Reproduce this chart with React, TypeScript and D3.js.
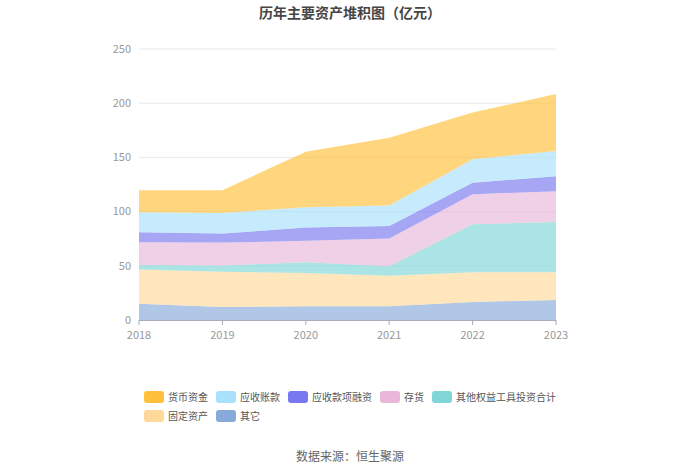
import { useRef, useEffect } from "react";
import * as d3 from "d3";

const years = ["2018", "2019", "2020", "2021", "2022", "2023"];

// 亿元, stacked bottom → top
const other = [15.1, 12.0, 12.6, 12.6, 16.6, 18.5];
const fixedAssets = [31.4, 32.6, 30.8, 28.3, 27.4, 25.5];
const equityInvest = [4.3, 5.6, 9.9, 8.7, 44.4, 46.5];
const inventory = [20.9, 21.2, 19.7, 25.5, 27.7, 28.3];
const receivableFin = [9.3, 8.3, 12.3, 11.7, 10.4, 13.9];
const receivables = [18.4, 19.1, 18.7, 18.8, 21.9, 23.1];
const cash = [20.4, 21.0, 51.2, 62.5, 43.1, 52.6];

const yTicks = [0, 50, 100, 150, 200, 250];

const series = [
    { key: "其它", values: other, color: "#88aadb" },
    { key: "固定资产", values: fixedAssets, color: "#ffd999" },
    { key: "其他权益工具投资合计", values: equityInvest, color: "#80d6d6" },
    { key: "存货", values: inventory, color: "#e8b7d9" },
    { key: "应收款项融资", values: receivableFin, color: "#7878f0" },
    { key: "应收账款", values: receivables, color: "#a8e1fb" },
    { key: "货币资金", values: cash, color: "#ffc13b" },
];

const legendOrder = [
    "货币资金",
    "应收账款",
    "应收款项融资",
    "存货",
    "其他权益工具投资合计",
    "固定资产",
    "其它",
];

const W = 700;
const H = 474;
const font = "'Noto Sans CJK SC', 'Noto Sans', sans-serif";

const StackChart = () => {
    const svgRef = useRef<SVGSVGElement>(null);

    useEffect(() => {
        if (!svgRef.current) return;
        const svg = d3.select(svgRef.current);
        svg.selectAll("*").remove();

        const x = d3.scalePoint().domain(years).range([139, 556]);
        const y = d3.scaleLinear().domain([0, 250]).range([320, 49]);

        const table = years.map((yr, i) => {
            const row: Record<string, number | string> = { year: yr };
            series.forEach((s) => (row[s.key] = s.values[i]));
            return row;
        });

        const stacked = d3
            .stack<Record<string, number | string>>()
            .keys(series.map((s) => s.key))
            .value((d, k) => d[k] as number)(table);

        // title
        svg.append("text")
            .attr("x", W / 2)
            .attr("y", 18)
            .attr("text-anchor", "middle")
            .attr("font-size", 14)
            .attr("font-weight", "bold")
            .attr("fill", "#464646")
            .attr("font-family", font)
            .text("历年主要资产堆积图（亿元）");

        // grid + y labels
        const g = svg.append("g");
        g.selectAll(".grid")
            .data(yTicks.filter((t) => t > 0))
            .enter()
            .append("line")
            .attr("x1", 139)
            .attr("x2", 556)
            .attr("y1", (d) => y(d))
            .attr("y2", (d) => y(d))
            .attr("stroke", "#e6e8ef")
            .attr("stroke-width", 1);

        g.selectAll(".ylab")
            .data(yTicks)
            .enter()
            .append("text")
            .attr("x", 131)
            .attr("y", (d) => y(d))
            .attr("dy", "0.35em")
            .attr("text-anchor", "end")
            .attr("font-size", 11)
            .attr("fill", "#999")
            .attr("font-family", font)
            .text((d) => d);

        const area = d3
            .area<d3.SeriesPoint<Record<string, number | string>>>()
            .x((d) => x(d.data.year as string)!)
            .y0((d) => y(d[0]))
            .y1((d) => y(d[1]));

        g.selectAll(".layer")
            .data(stacked)
            .enter()
            .append("path")
            .attr("d", (d) => area(d))
            .attr("fill", (d) => series.find((s) => s.key === d.key)!.color)
            .attr("fill-opacity", 0.66);

        // x axis
        g.append("line")
            .attr("x1", 139)
            .attr("x2", 556)
            .attr("y1", 320.5)
            .attr("y2", 320.5)
            .attr("stroke", "#a8adb8");
        g.selectAll(".xtick")
            .data(years)
            .enter()
            .append("line")
            .attr("x1", (d) => x(d)!)
            .attr("x2", (d) => x(d)!)
            .attr("y1", 320)
            .attr("y2", 325)
            .attr("stroke", "#a8adb8");
        g.selectAll(".xlab")
            .data(years)
            .enter()
            .append("text")
            .attr("x", (d) => x(d)!)
            .attr("y", 335)
            .attr("dy", "0.35em")
            .attr("text-anchor", "middle")
            .attr("font-size", 11)
            .attr("fill", "#999")
            .attr("font-family", font)
            .text((d) => d);

        // legend
        const legend = svg.append("g").attr("font-family", font);
        let lx = 144;
        let ly = 397;
        legendOrder.forEach((name, i) => {
            const s = series.find((d) => d.key === name)!;
            if (i === 5) {
                lx = 144;
                ly = 416;
            }
            legend
                .append("rect")
                .attr("x", lx)
                .attr("y", ly - 6)
                .attr("width", 20)
                .attr("height", 12)
                .attr("rx", 3)
                .attr("fill", s.color);
            const t = legend
                .append("text")
                .attr("x", lx + 24)
                .attr("y", ly)
                .attr("dy", "0.35em")
                .attr("font-size", 10)
                .attr("fill", "#555")
                .text(name);
            const tw = (t.node() as SVGTextElement).getComputedTextLength();
            lx += 24 + tw + 8;
        });

        svg.append("text")
            .attr("x", W / 2)
            .attr("y", 457)
            .attr("dy", "0.35em")
            .attr("text-anchor", "middle")
            .attr("font-size", 12)
            .attr("fill", "#666")
            .attr("font-family", font)
            .text("数据来源：恒生聚源");
    }, []);

    return (
        <svg
            ref={svgRef}
            width={W}
            height={H}
            style={{ position: "absolute", left: 0, top: 0, background: "#fff" }}
        />
    );
};

export default function App() {
    return <StackChart />;
}
